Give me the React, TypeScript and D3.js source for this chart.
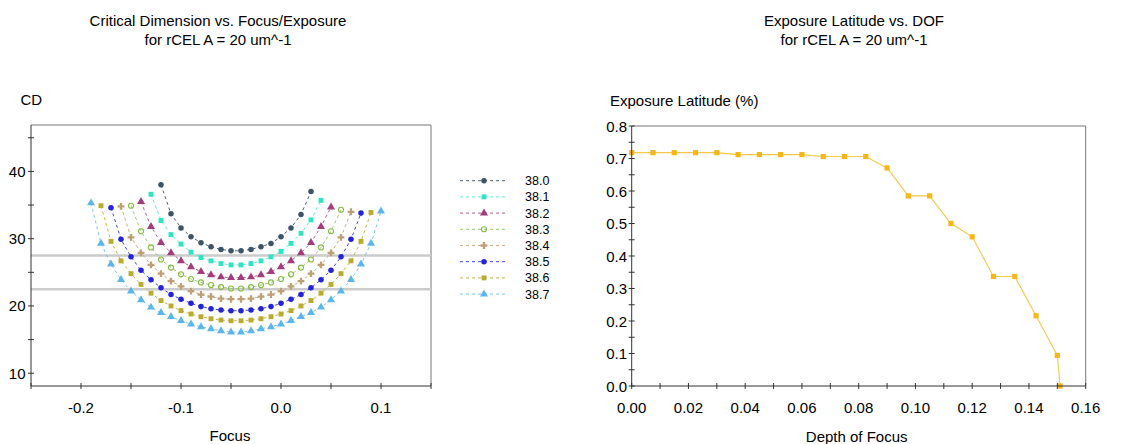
import React from 'react'
import * as d3 from 'd3'

const _ = null

// focus settings shared by all the dose curves (nulls where a curve has no point)
const focus = [-0.19, -0.18, -0.17, -0.16, -0.15, -0.14, -0.13, -0.12, -0.11, -0.10, -0.09, -0.08, -0.07, -0.06, -0.05,
	-0.04, -0.03, -0.02, -0.01, 0.00, 0.01, 0.02, 0.03, 0.04, 0.05, 0.06, 0.07, 0.08, 0.09, 0.10]

const cd380 = [_, _, _, _, _, _, _, 38.0, 33.7, 31.6, 30.3, 29.4, 28.8, 28.4, 28.2, 28.2, 28.4, 28.8, 29.3, 30.3, 31.6, 33.6, 37.0, _, _, _, _, _, _, _]
const cd381 = [_, _, _, _, _, _, 36.6, 32.7, 30.6, 29.2, 28.0, 27.2, 26.7, 26.3, 26.1, 26.1, 26.3, 26.7, 27.3, 28.1, 29.3, 30.8, 32.8, 35.7, _, _, _, _, _, _]
const cd382 = [_, _, _, _, _, 35.5, 31.8, 29.4, 27.9, 26.7, 25.8, 25.1, 24.6, 24.3, 24.2, 24.2, 24.3, 24.6, 25.1, 25.8, 26.7, 27.9, 29.4, 31.8, 34.7, _, _, _, _, _]
const cd383 = [_, _, _, _, 34.9, 31.1, 28.7, 26.9, 25.7, 24.7, 24.0, 23.5, 23.1, 22.8, 22.6, 22.6, 22.8, 23.1, 23.5, 24.0, 24.7, 25.7, 26.9, 28.7, 31.1, 34.3, _, _, _, _]
const cd384 = [_, _, _, 34.8, 30.2, 27.9, 26.1, 24.8, 23.7, 22.9, 22.2, 21.7, 21.4, 21.1, 21.0, 21.0, 21.1, 21.4, 21.7, 22.2, 22.9, 23.7, 24.8, 26.1, 27.9, 30.2, 34.0, _, _, _]
const cd385 = [_, _, 34.6, 29.9, 27.3, 25.3, 23.9, 22.7, 21.7, 21.0, 20.4, 19.9, 19.6, 19.4, 19.3, 19.3, 19.4, 19.6, 19.9, 20.4, 21.0, 21.7, 22.7, 23.9, 25.3, 27.3, 29.9, 33.8, _, _]
const cd386 = [_, 34.9, 29.6, 26.7, 24.8, 23.2, 21.9, 20.8, 20.0, 19.3, 18.8, 18.4, 18.1, 17.9, 17.8, 17.8, 17.9, 18.1, 18.4, 18.8, 19.3, 20.0, 20.8, 21.9, 23.2, 24.8, 26.7, 29.6, 33.9, _]
const cd387 = [35.3, 29.3, 26.2, 23.9, 22.2, 20.9, 19.8, 19.0, 18.4, 17.8, 17.3, 16.9, 16.6, 16.3, 16.1, 16.1, 16.3, 16.6, 16.9, 17.3, 17.8, 18.4, 19.0, 19.8, 20.9, 22.2, 23.9, 26.2, 29.3, 34.1]

const doseLabels = ['38.0', '38.1', '38.2', '38.3', '38.4', '38.5', '38.6', '38.7']
const cdSeries = [cd380, cd381, cd382, cd383, cd384, cd385, cd386, cd387]
const cdLimits = [27.5, 22.5]

const focusTicks = [-0.2, -0.1, 0.0, 0.1]
const focusMinor = [-0.25, -0.15, -0.05, 0.05, 0.15]
const cdTicks = [10, 20, 30, 40]
const cdMinor = [15, 25, 35, 45]

// exposure latitude vs depth of focus
const dof = [0, 0.0075, 0.015, 0.0225, 0.03, 0.0375, 0.045, 0.0525, 0.06, 0.0675, 0.075, 0.0825, 0.09, 0.0975,
	0.105, 0.1125, 0.12, 0.1275, 0.135, 0.1425, 0.15, 0.151]
const latitude = [0.718, 0.718, 0.718, 0.718, 0.718, 0.712, 0.712, 0.712, 0.712, 0.706, 0.706, 0.706, 0.671, 0.585,
	0.585, 0.5, 0.459, 0.337, 0.337, 0.216, 0.094, 0]

const dofTicks = [0, 0.02, 0.04, 0.06, 0.08, 0.10, 0.12, 0.14, 0.16]
const dofMinor = [0.01, 0.03, 0.05, 0.07, 0.09, 0.11, 0.13, 0.15]
const latTicks = [0, 0.1, 0.2, 0.3, 0.4, 0.5, 0.6, 0.7, 0.8]
const latMinor = [0.05, 0.15, 0.25, 0.35, 0.45, 0.55, 0.65, 0.75]

const colors = ['#3d5468', '#2fe3c3', '#a33d7d', '#86bb45', '#bf9f76', '#2424d6', '#b9ab2e', '#5db6ea']
const lineColors = ['#4d6478', '#5fe8d0', '#b0608f', '#9cc86a', '#c9ae8c', '#4848d8', '#c4b850', '#7cc4ee']
const shapes = [d3.symbolCircle, d3.symbolSquare, d3.symbolTriangle, d3.symbolCircle, d3.symbolCross, d3.symbolCircle, d3.symbolSquare, d3.symbolTriangle]
const hollow = [false, false, false, true, false, false, false, false]

const font = '"Liberation Sans", Arial, sans-serif'
const axisColor = '#333'
const frameColor = '#777'

function Marker({ i, x, y }) {
	const size = shapes[i] === d3.symbolCross ? 26 : shapes[i] === d3.symbolTriangle ? 28 : 24
	const path = d3.symbol().type(shapes[i]).size(hollow[i] ? 20 : size)()
	return (
		<path d={path} transform={`translate(${x},${y})`}
			fill={hollow[i] ? 'none' : colors[i]}
			stroke={hollow[i] ? colors[i] : 'none'} strokeWidth={1.1} />
	)
}

function CdChart() {
	const x = d3.scaleLinear().domain([-0.25, 0.15]).range([31, 431])
	const y = d3.scaleLinear().domain([8.1, 46.9]).range([386, 125])
	const line = d3.line()
		.defined(d => d[1] != null)
		.x(d => x(d[0]))
		.y(d => y(d[1]))

	return (
		<g>
			<text x={218} y={26} textAnchor="middle" fontSize={15}>Critical Dimension vs. Focus/Exposure</text>
			<text x={218} y={44.5} textAnchor="middle" fontSize={15}>for rCEL A = 20 um^-1</text>
			<text x={20.5} y={104.5} fontSize={15}>CD</text>

			<line x1={x(-0.25)} x2={x(0.15)} y1={y(46.9)} y2={y(46.9)} stroke={frameColor} />
			<line x1={x(0.15)} x2={x(0.15)} y1={y(46.9)} y2={y(8.1)} stroke={frameColor} />

			{cdLimits.map(v => (
				<line key={v} x1={x(-0.25)} x2={x(0.15)} y1={y(v)} y2={y(v)} stroke="#cbcbcb" strokeWidth={2.5} />
			))}

			{cdSeries.map((s, i) => (
				<g key={i}>
					<path d={line(focus.map((f, j) => [f, s[j]]))} fill="none" stroke={lineColors[i]}
						strokeWidth={1} strokeDasharray="3,3" />
					{focus.map((f, j) => s[j] == null ? null : <Marker key={j} i={i} x={x(f)} y={y(s[j])} />)}
				</g>
			))}

			<line x1={x(-0.25)} x2={x(-0.25)} y1={y(46.9)} y2={y(8.1)} stroke={axisColor} />
			<line x1={x(-0.25)} x2={x(0.15)} y1={y(8.1)} y2={y(8.1)} stroke={axisColor} />
			{cdTicks.concat(cdMinor).map(t => (
				<line key={t} x1={x(-0.25) - 3} x2={x(-0.25) + 3} y1={y(t)} y2={y(t)} stroke={axisColor} />
			))}
			{cdTicks.map(t => (
				<text key={t} x={25.5} y={y(t) + 5.5} textAnchor="end" fontSize={15}>{t}</text>
			))}
			{focusTicks.concat(focusMinor).map(t => (
				<line key={t} x1={x(t)} x2={x(t)} y1={y(8.1) - 3} y2={y(8.1) + 3} stroke={axisColor} />
			))}
			{focusTicks.map(t => (
				<text key={t} x={x(t)} y={412.5} textAnchor="middle" fontSize={15}>{t.toFixed(1)}</text>
			))}
			<text x={230} y={440.5} textAnchor="middle" fontSize={15}>Focus</text>

			{doseLabels.map((lab, i) => {
				const ly = 180.7 + i * 16.2
				return (
					<g key={lab}>
						<line x1={460} x2={505} y1={ly} y2={ly} stroke={lineColors[i]} strokeDasharray="3,3" />
						<Marker i={i} x={484} y={ly} />
						<text x={525} y={ly + 4.5} fontSize={12.5}>{lab}</text>
					</g>
				)
			})}
		</g>
	)
}

function LatitudeChart() {
	const x = d3.scaleLinear().domain([0, 0.16]).range([631.7, 1085.7])
	const y = d3.scaleLinear().domain([0, 0.8]).range([386, 126])
	const line = d3.line()
		.x((d, i) => x(dof[i]))
		.y(d => y(d))

	return (
		<g>
			<text x={854} y={26} textAnchor="middle" fontSize={15}>Exposure Latitude vs. DOF</text>
			<text x={854} y={44.5} textAnchor="middle" fontSize={15}>for rCEL A = 20 um^-1</text>
			<text x={610} y={105.5} fontSize={15}>Exposure Latitude (%)</text>

			<line x1={x(0)} x2={x(0.16)} y1={y(0.8)} y2={y(0.8)} stroke={frameColor} />
			<line x1={x(0.16)} x2={x(0.16)} y1={y(0.8)} y2={y(0)} stroke={frameColor} />

			<path d={line(latitude)} fill="none" stroke="#f2c94a" strokeWidth={1.1} />
			{latitude.map((v, i) => (
				<rect key={i} x={x(dof[i]) - 2.6} y={y(v) - 2.6} width={5.2} height={5.2} fill="#f6b617" />
			))}

			<line x1={x(0)} x2={x(0)} y1={y(0.8)} y2={y(0)} stroke={axisColor} />
			<line x1={x(0)} x2={x(0.16)} y1={y(0)} y2={y(0)} stroke={axisColor} />
			{latTicks.concat(latMinor).map(t => (
				<line key={t} x1={x(0) - 3} x2={x(0) + 3} y1={y(t)} y2={y(t)} stroke={axisColor} />
			))}
			{latTicks.map(t => (
				<text key={t} x={627} y={y(t) + 5.5} textAnchor="end" fontSize={15}>{t.toFixed(1)}</text>
			))}
			{dofTicks.concat(dofMinor).map(t => (
				<line key={t} x1={x(t)} x2={x(t)} y1={y(0) - 3} y2={y(0) + 3} stroke={axisColor} />
			))}
			{dofTicks.map(t => (
				<text key={t} x={x(t)} y={412.5} textAnchor="middle" fontSize={15}>{t.toFixed(2)}</text>
			))}
			<text x={856.7} y={441.5} textAnchor="middle" fontSize={15}>Depth of Focus</text>
		</g>
	)
}

export default function App() {
	return (
		<svg width={1129} height={444} fontFamily={font} fill="#000"
			style={{ position: 'absolute', left: 0, top: 0, background: '#fff' }}>
			<CdChart />
			<LatitudeChart />
		</svg>
	)
}
